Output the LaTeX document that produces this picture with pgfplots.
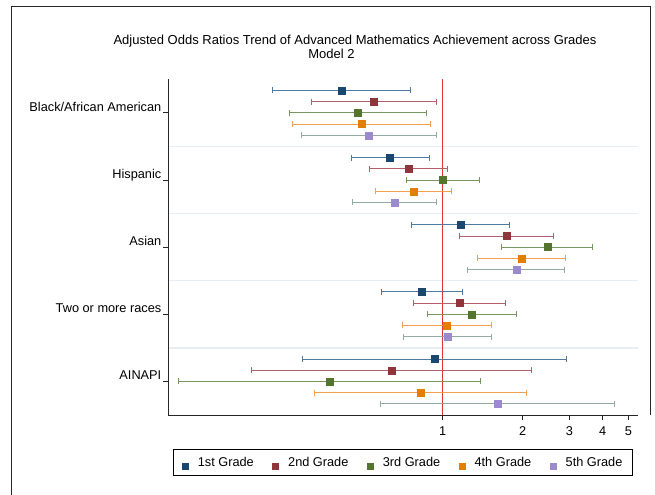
\documentclass[border=0pt]{standalone}
\usepackage{pgfplots}
\pgfplotsset{compat=1.18}
\usepackage{pgfplotstable}
\usepackage{fontspec}
\setmainfont{Liberation Sans}
\definecolor{c1}{HTML}{1A476F}
\definecolor{c2}{HTML}{90353B}
\definecolor{c3}{HTML}{55752F}
\definecolor{c4}{HTML}{E37E00}
\definecolor{c5}{HTML}{9C8ACE}
\definecolor{ci1}{HTML}{4F7AA0}
\definecolor{ci2}{HTML}{B0606A}
\definecolor{ci3}{HTML}{789660}
\definecolor{ci4}{HTML}{F0A050}
\definecolor{ci5}{HTML}{92ABA2}
\definecolor{sepc}{HTML}{E6EFF3}
\definecolor{redl}{HTML}{E0353A}
\newcommand{\fs}{\fontsize{12.75bp}{15bp}\selectfont}
\newcommand{\ft}{\fontsize{13bp}{15bp}\selectfont}

% y = category + (grade-3)/6 ; categories 0..4 top to bottom
\pgfplotstableread{
y or lo hi
-0.3333 0.415 0.229 0.758
0.6667 0.633 0.454 0.890
1.6667 1.165 0.760 1.786
2.6667 0.831 0.586 1.189
3.6667 0.930 0.297 2.918
}\gone
\pgfplotstableread{
y or lo hi
-0.1667 0.548 0.321 0.944
0.8333 0.742 0.531 1.038
1.8333 1.735 1.159 2.617
2.8333 1.155 0.773 1.721
3.8333 0.641 0.191 2.149
}\gtwo
\pgfplotstableread{
y or lo hi
0 0.477 0.266 0.865
1 0.998 0.728 1.373
2 2.476 1.657 3.668
3 1.281 0.878 1.887
4 0.376 0.1015 1.390
}\gthree
\pgfplotstableread{
y or lo hi
0.1667 0.494 0.273 0.896
1.1667 0.775 0.556 1.081
2.1667 1.976 1.354 2.894
3.1667 1.035 0.703 1.524
4.1667 0.824 0.330 2.058
}\gfour
\pgfplotstableread{
y or lo hi
0.3333 0.525 0.295 0.946
1.3333 0.657 0.458 0.949
2.3333 1.892 1.242 2.869
3.3333 1.041 0.713 1.524
4.3333 1.605 0.584 4.420
}\gfive

\pgfplotsset{
  ciplot/.style n args={2}{
    color=#1, only marks, mark=square*, mark size=3.5bp,
    mark options={draw=#1, fill=#1},
    error bars/.cd, x dir=both, x explicit,
    error bar style={color=#2, line width=0.9bp},
    error mark options={rotate=90, color=#2, mark size=3bp, line width=0.9bp},
  },
}

\begin{document}
\begin{tikzpicture}
\path[use as bounding box] (0,0) rectangle (655bp,495bp);
\draw[color=black!85, line width=1bp] (11.5bp,0) -- (11.5bp,488bp) -- (650bp,488bp) -- (650bp,80bp);
\node[font=\ft, anchor=base] at (355bp,450.7bp) {Adjusted Odds Ratios Trend of Advanced Mathematics Achievement across Grades};
\node[font=\ft, anchor=base] at (331.5bp,436.7bp) {Model 2};
\begin{axis}[
  at={(168.3bp,80bp)}, anchor=south west,
  scale only axis, width=469.7bp, height=335.7bp,
  xmode=log, xmin=0.09274, xmax=5.432,
  ymin=-0.5, ymax=4.5, y dir=reverse,
  axis x line*=bottom, axis y line*=left,
  x axis line style={-, line width=0.9bp, color=black!85},
  y axis line style={-, line width=0.9bp, color=black!85},
  tick align=outside, major tick length=5bp,
  tick style={color=black!85, line width=0.8bp},
  xtick={1,2,3,4,5}, xticklabels={1,2,3,4,5},
  xminorticks=false,
  ytick={0,1,2,3,4},
  yticklabels={Black/African American,Hispanic,Asian,Two or more races,AINAPI},
  minor ytick={0.5,1.5,2.5,3.5}, yminorgrids=true,
  minor y tick style={draw=none},
  minor grid style={color=sepc, line width=1.5bp},
  every tick label/.append style={font=\fs},
  /pgf/number format/assume math mode=true,
  xticklabel style={yshift=-3.5bp},
  yticklabel style={anchor=base east, yshift=1.5bp, xshift=1.5bp},
  legend columns=5,
  legend style={at={(0.5,-0.1022)}, anchor=north, font=\fs,
    draw=black, line width=0.9bp, inner xsep=8bp, inner ysep=5.5bp,
    /tikz/every even column/.append style={column sep=16.5bp},
    /tikz/every odd column/.append style={column sep=7bp}},
  legend image code/.code={\fill (-3bp,-7bp) rectangle (3bp,-1bp);},
]
\draw[color=redl, line width=1.3bp] (axis cs:1,-0.5) -- (axis cs:1,4.5);
\addplot[ciplot={c1}{ci1}] table[x=or, y=y, x error plus expr=\thisrow{hi}-\thisrow{or}, x error minus expr=\thisrow{or}-\thisrow{lo}] {\gone};
\addlegendentry{1st Grade}
\addplot[ciplot={c2}{ci2}] table[x=or, y=y, x error plus expr=\thisrow{hi}-\thisrow{or}, x error minus expr=\thisrow{or}-\thisrow{lo}] {\gtwo};
\addlegendentry{2nd Grade}
\addplot[ciplot={c3}{ci3}] table[x=or, y=y, x error plus expr=\thisrow{hi}-\thisrow{or}, x error minus expr=\thisrow{or}-\thisrow{lo}] {\gthree};
\addlegendentry{3rd Grade}
\addplot[ciplot={c4}{ci4}] table[x=or, y=y, x error plus expr=\thisrow{hi}-\thisrow{or}, x error minus expr=\thisrow{or}-\thisrow{lo}] {\gfour};
\addlegendentry{4th Grade}
\addplot[ciplot={c5}{ci5}] table[x=or, y=y, x error plus expr=\thisrow{hi}-\thisrow{or}, x error minus expr=\thisrow{or}-\thisrow{lo}] {\gfive};
\addlegendentry{5th Grade}
\end{axis}
\end{tikzpicture}
\end{document}
